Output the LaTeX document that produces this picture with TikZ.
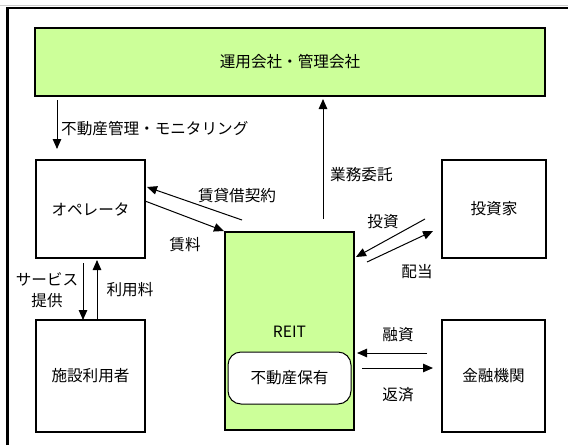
\documentclass[tikz,border=0pt]{standalone}
\usepackage{fontspec}
\setmainfont{Noto Sans CJK JP}
\usetikzlibrary{arrows.meta,calc}
\definecolor{lgreen}{RGB}{204,255,153}
\begin{document}
\begin{tikzpicture}[x=1pt,y=-1pt,
  box/.style={draw=black,line width=2.6pt,rectangle,inner sep=0pt,font=\fontsize{15.6}{18}\selectfont},
  gbox/.style={box,fill=lgreen},
  lbl/.style={inner sep=0pt,font=\fontsize{15.6}{18}\selectfont},
  arr/.style={line width=1pt,-{Triangle[length=10pt,width=8.5pt]}}]
\useasboundingbox (0,0) rectangle (568,445);
% frame
\draw[gray!40,line width=1pt] (0,5.5) -- (568,5.5);
\draw[line width=2.6pt] (7.5,445) -- (7.5,8) -- (568,8);
% boxes
\node[gbox,minimum width=510,minimum height=68] (top) at (290,62) {運用会社・管理会社};
\node[box,minimum width=109,minimum height=98] (op) at (90.5,209) {オペレータ};
\node[box,minimum width=109,minimum height=112] (fac) at (90.5,376) {施設利用者};
\node[gbox,minimum width=129,minimum height=198] (reit) at (289.5,331) {};
\node[lbl] (reitl) at (289.5,332) {REIT};
\node[draw=black,line width=1pt,fill=white,rounded corners=13pt,minimum width=123,minimum height=52,inner sep=0pt,font=\fontsize{15.6}{18}\selectfont] (hold) at (289.5,378) {不動産保有};
\node[box,minimum width=104,minimum height=98] (inv) at (494,209) {投資家};
\node[box,minimum width=103,minimum height=112] (fin) at (493.5,376) {金融機関};
% connector end points
\coordinate (m1) at (57,100);  \coordinate (m2) at (57,149);
\coordinate (g1) at (323,219); \coordinate (g2) at (323,99);
\coordinate (c1) at (242,220); \coordinate (c2) at (147,187);
\coordinate (r1) at (145,201); \coordinate (r2) at (224,231);
\coordinate (i1) at (425,219); \coordinate (i2) at (356,257);
\coordinate (d1) at (367,262); \coordinate (d2) at (433,231);
\coordinate (s1) at (83,263);  \coordinate (s2) at (83,320);
\coordinate (u1) at (97,320);  \coordinate (u2) at (97,260);
\coordinate (l1) at (427,353); \coordinate (l2) at (357,353);
\coordinate (p1) at (362,368); \coordinate (p2) at (433,368);
% connectors
\draw[arr] (m1) -- (m2);
\draw[arr] (g1) -- (g2);
\draw[arr] (c1) -- (c2);
\draw[arr] (r1) -- (r2);
\draw[arr] (i1) -- (i2);
\draw[arr] (d1) -- (d2);
\draw[arr] (s1) -- (s2);
\draw[arr] (u1) -- (u2);
\draw[arr] (l1) -- (l2);
\draw[arr] (p1) -- (p2);
% labels
\node[lbl,anchor=west] (t1) at (61,129) {不動産管理・モニタリング};
\node[lbl,anchor=west] (t2) at (330,175) {業務委託};
\node[lbl] (t3) at (237,196) {賃貸借契約};
\node[lbl] (t4) at (185,245) {賃料};
\node[lbl] (t5) at (383,222) {投資};
\node[lbl] (t6) at (417,272) {配当};
\node[lbl] (t7) at (47,279) {サービス};
\node[lbl] (t8) at (47,301) {提供};
\node[lbl] (t9) at (130,290) {利用料};
\node[lbl] (t10) at (398,335) {融資};
\node[lbl] (t11) at (398,395) {返済};
\end{tikzpicture}
\end{document}
